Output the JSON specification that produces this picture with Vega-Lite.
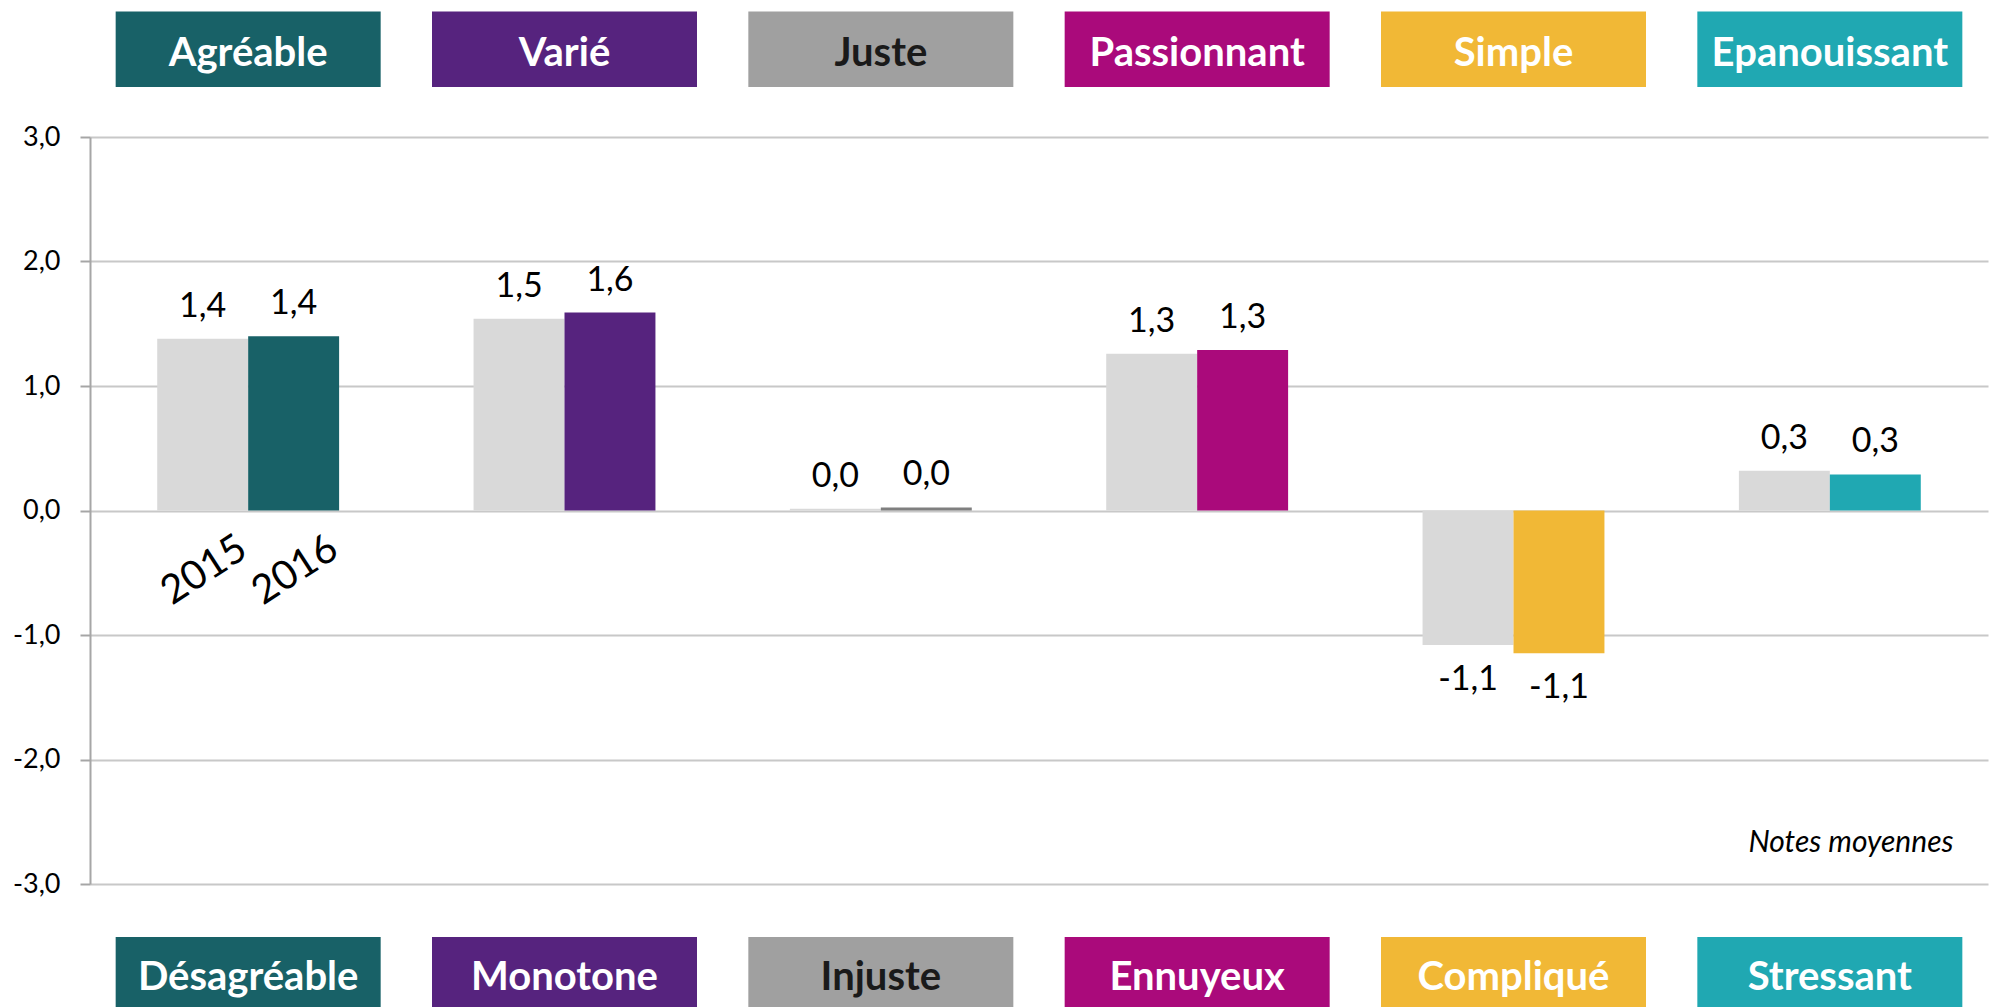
{
  "$schema": "https://vega.github.io/schema/vega-lite/v6.json",
  "autosize": "none",
  "width": 1898,
  "height": 747,
  "padding": {"left": 90, "top": 137, "right": 16, "bottom": 123},
  "background": "white",
  "config": {
    "view": {"stroke": null},
    "font": "Lato",
    "locale": {"number": {"decimal": ",", "thousands": " ", "grouping": [3], "currency": ["", " €"], "minus": "-"}}
  },
  "datasets": {
    "notes": [
      {"categorie": "Agréable", "annee": "2015", "note": 1.38},
      {"categorie": "Agréable", "annee": "2016", "note": 1.40},
      {"categorie": "Varié", "annee": "2015", "note": 1.54},
      {"categorie": "Varié", "annee": "2016", "note": 1.59},
      {"categorie": "Juste", "annee": "2015", "note": 0.015},
      {"categorie": "Juste", "annee": "2016", "note": 0.025},
      {"categorie": "Passionnant", "annee": "2015", "note": 1.26},
      {"categorie": "Passionnant", "annee": "2016", "note": 1.29},
      {"categorie": "Simple", "annee": "2015", "note": -1.08},
      {"categorie": "Simple", "annee": "2016", "note": -1.146},
      {"categorie": "Epanouissant", "annee": "2015", "note": 0.32},
      {"categorie": "Epanouissant", "annee": "2016", "note": 0.29}
    ],
    "libelles": [
      {"categorie": "Agréable", "contraire": "Désagréable"},
      {"categorie": "Varié", "contraire": "Monotone"},
      {"categorie": "Juste", "contraire": "Injuste"},
      {"categorie": "Passionnant", "contraire": "Ennuyeux"},
      {"categorie": "Simple", "contraire": "Compliqué"},
      {"categorie": "Epanouissant", "contraire": "Stressant"}
    ],
    "annees": [
      {"categorie": "Agréable", "annee": "2015"},
      {"categorie": "Agréable", "annee": "2016"}
    ]
  },
  "resolve": {"scale": {"color": "independent"}},
  "layer": [
    {
      "data": {"name": "notes"},
      "mark": {"type": "bar"},
      "encoding": {
        "x": {"field": "categorie", "type": "nominal", "sort": ["Agréable", "Varié", "Juste", "Passionnant", "Simple", "Epanouissant"], "scale": {"paddingInner": 0.425, "paddingOuter": 0.2125}, "axis": null},
        "xOffset": {"field": "annee", "type": "nominal", "scale": {"paddingInner": 0, "paddingOuter": 0}},
        "y": {
          "field": "note", "type": "quantitative",
          "scale": {"domain": [-3, 3], "nice": false, "zero": false},
          "axis": {
            "values": [-3, -2, -1, 0, 1, 2, 3], "format": ".1f", "title": null,
            "grid": true, "gridColor": "#C8C8C8", "gridWidth": 2,
            "domainColor": "#A6A6A6", "domainWidth": 2,
            "tickColor": "#A6A6A6", "tickWidth": 2, "tickSize": 10,
            "labelPadding": 20, "labelFontSize": 27, "labelColor": "#000000", "labelFont": "Lato"
          }
        },
        "color": {
          "condition": {"test": "datum.annee === '2015'", "value": "#D9D9D9"},
          "field": "categorie", "type": "nominal", "legend": null,
          "scale": {"domain": ["Agréable", "Varié", "Juste", "Passionnant", "Simple", "Epanouissant"], "range": ["#186167", "#56237E", "#7F7F7F", "#AA0A7B", "#F1B836", "#20A8B2"]}
        }
      }
    },
    {
      "data": {"name": "notes"},
      "transform": [{"filter": "datum.note >= 0"}],
      "mark": {"type": "text", "baseline": "alphabetic", "dy": -22, "fontSize": 34, "color": "#000000"},
      "encoding": {
        "x": {"field": "categorie", "type": "nominal", "sort": ["Agréable", "Varié", "Juste", "Passionnant", "Simple", "Epanouissant"]},
        "xOffset": {"field": "annee", "type": "nominal"},
        "y": {"field": "note", "type": "quantitative", "scale": {"domain": [-3, 3], "nice": false, "zero": false}},
        "text": {"field": "note", "type": "quantitative", "format": ".1f"}
      }
    },
    {
      "data": {"name": "notes"},
      "transform": [{"filter": "datum.note < 0"}],
      "mark": {"type": "text", "baseline": "top", "dy": 18, "fontSize": 34, "color": "#000000"},
      "encoding": {
        "x": {"field": "categorie", "type": "nominal", "sort": ["Agréable", "Varié", "Juste", "Passionnant", "Simple", "Epanouissant"]},
        "xOffset": {"field": "annee", "type": "nominal"},
        "y": {"field": "note", "type": "quantitative", "scale": {"domain": [-3, 3], "nice": false, "zero": false}},
        "text": {"field": "note", "type": "quantitative", "format": ".1f"}
      }
    },
    {
      "data": {"name": "annees"},
      "mark": {"type": "text", "baseline": "middle", "align": "center", "angle": -33, "fontSize": 40, "dx": 2, "color": "#000000"},
      "encoding": {
        "x": {"field": "categorie", "type": "nominal", "sort": ["Agréable", "Varié", "Juste", "Passionnant", "Simple", "Epanouissant"]},
        "xOffset": {"field": "annee", "type": "nominal"},
        "y": {"datum": -0.49, "scale": {"domain": [-3, 3], "nice": false, "zero": false}},
        "text": {"field": "annee", "type": "nominal"}
      }
    },
    {
      "data": {"name": "libelles"},
      "mark": {"type": "bar", "width": 265},
      "encoding": {
        "x": {"field": "categorie", "type": "nominal", "sort": ["Agréable", "Varié", "Juste", "Passionnant", "Simple", "Epanouissant"]},
        "y": {"datum": 4.008, "scale": {"domain": [-3, 3], "nice": false, "zero": false}},
        "y2": {"datum": 3.402},
        "color": {
          "field": "categorie", "type": "nominal", "legend": null,
          "scale": {"domain": ["Agréable", "Varié", "Juste", "Passionnant", "Simple", "Epanouissant"], "range": ["#186167", "#56237E", "#A0A0A0", "#AA0A7B", "#F1B836", "#20A8B2"]}
        }
      }
    },
    {
      "data": {"name": "libelles"},
      "mark": {"type": "bar", "width": 265},
      "encoding": {
        "x": {"field": "categorie", "type": "nominal", "sort": ["Agréable", "Varié", "Juste", "Passionnant", "Simple", "Epanouissant"]},
        "y": {"datum": -3.426, "scale": {"domain": [-3, 3], "nice": false, "zero": false}},
        "y2": {"datum": -4.1},
        "color": {
          "field": "categorie", "type": "nominal", "legend": null,
          "scale": {"domain": ["Agréable", "Varié", "Juste", "Passionnant", "Simple", "Epanouissant"], "range": ["#186167", "#56237E", "#A0A0A0", "#AA0A7B", "#F1B836", "#20A8B2"]}
        }
      }
    },
    {
      "data": {"name": "libelles"},
      "mark": {"type": "text", "baseline": "middle", "align": "center", "fontSize": 40, "fontWeight": "bold"},
      "encoding": {
        "x": {"field": "categorie", "type": "nominal", "sort": ["Agréable", "Varié", "Juste", "Passionnant", "Simple", "Epanouissant"]},
        "y": {"datum": 3.665, "scale": {"domain": [-3, 3], "nice": false, "zero": false}},
        "text": {"field": "categorie", "type": "nominal"},
        "color": {"condition": {"test": "datum.categorie === 'Juste'", "value": "#1A1A1A"}, "value": "#FFFFFF"}
      }
    },
    {
      "data": {"name": "libelles"},
      "mark": {"type": "text", "baseline": "middle", "align": "center", "fontSize": 40, "fontWeight": "bold"},
      "encoding": {
        "x": {"field": "categorie", "type": "nominal", "sort": ["Agréable", "Varié", "Juste", "Passionnant", "Simple", "Epanouissant"]},
        "y": {"datum": -3.752, "scale": {"domain": [-3, 3], "nice": false, "zero": false}},
        "text": {"field": "contraire", "type": "nominal"},
        "color": {"condition": {"test": "datum.categorie === 'Juste'", "value": "#1A1A1A"}, "value": "#FFFFFF"}
      }
    },
    {
      "data": {"values": [{"texte": "Notes moyennes"}]},
      "mark": {"type": "text", "align": "right", "baseline": "alphabetic", "fontSize": 30, "fontStyle": "italic", "color": "#000000"},
      "encoding": {
        "x": {"datum": "Epanouissant", "bandPosition": 1.18},
        "y": {"datum": -2.74, "scale": {"domain": [-3, 3], "nice": false, "zero": false}},
        "text": {"field": "texte", "type": "nominal"}
      }
    }
  ]
}
